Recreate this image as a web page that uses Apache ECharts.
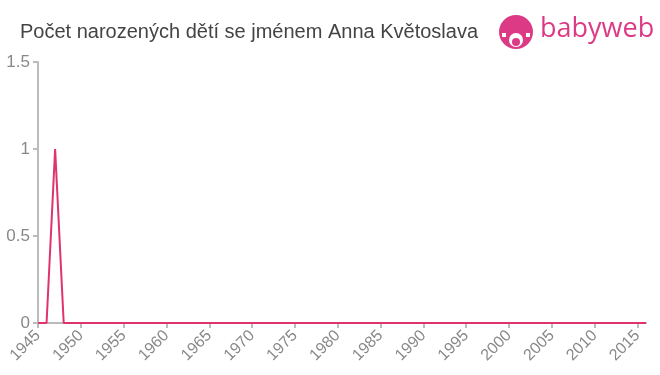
<!DOCTYPE html>
<html><head><meta charset="utf-8">
<script src="https://cdn.jsdelivr.net/npm/echarts@6/dist/echarts.min.js"></script>
<style>html,body{margin:0;padding:0;background:#fff}#c{width:660px;height:375px}</style>
</head><body><div id="c"></div>
<script>
var years = [];
for (var y = 1945; y <= 2016; y++) years.push(String(y));
var counts = [0,0,1,0,0,0,0,0,0,0, 0,0,0,0,0,0,0,0,0,0, 0,0,0,0,0,0,0,0,0,0, 0,0,0,0,0,0,0,0,0,0, 0,0,0,0,0,0,0,0,0,0, 0,0,0,0,0,0,0,0,0,0, 0,0,0,0,0,0,0,0,0,0, 0,0];
var titleText = 'Počet narozených dětí se jménem Anna Květoslava';
var chart = echarts.init(document.getElementById('c'));
chart.setOption({
  animation: false,
  title: {text: titleText, left: 15, top: 17, textStyle: {fontFamily: 'Liberation Sans, Arial', fontSize: 20, fontWeight: 'normal', color: '#444'}},
  grid: {left: 38, right: 14, top: 62, bottom: 52},
  xAxis: {
    type: 'category', data: years, boundaryGap: false,
    axisLine: {lineStyle: {color: '#bbb', width: 2}},
    axisTick: {interval: 4, length: 5, lineStyle: {color: '#bbb', width: 2}},
    axisLabel: {interval: 4, rotate: 45, fontFamily: 'Liberation Sans, Arial', fontSize: 16, color: '#888', margin: 10}
  },
  yAxis: {
    type: 'value', min: 0, max: 1.5, interval: 0.5,
    axisLine: {show: true, lineStyle: {color: '#bbb', width: 2}},
    axisTick: {show: true, length: 5, lineStyle: {color: '#bbb', width: 2}},
    splitLine: {show: false},
    axisLabel: {fontFamily: 'Liberation Sans, Arial', fontSize: 17, color: '#888', margin: 8}
  },
  series: [{type: 'line', data: counts, showSymbol: false, lineStyle: {color: '#e0336b', width: 2}, itemStyle: {color: '#e0336b'}}],
  graphic: [
    {type: 'circle', shape: {cx: 516, cy: 32, r: 17}, style: {fill: '#dd3a86'}},
    {type: 'circle', shape: {cx: 516, cy: 40, r: 7}, style: {fill: '#fff'}},
    {type: 'circle', shape: {cx: 516, cy: 42, r: 4}, style: {fill: '#dd3a86'}},
    {type: 'rect', shape: {x: 502, y: 33, width: 4, height: 4}, style: {fill: '#fff'}},
    {type: 'rect', shape: {x: 526, y: 33, width: 4, height: 4}, style: {fill: '#fff'}},
    {type: 'text', left: 540, top: 16, style: {text: 'babyweb', font: '500 27px "Open Sans", "Liberation Sans", Arial', fill: '#dd3a86'}}
  ]
});
</script></body></html>
